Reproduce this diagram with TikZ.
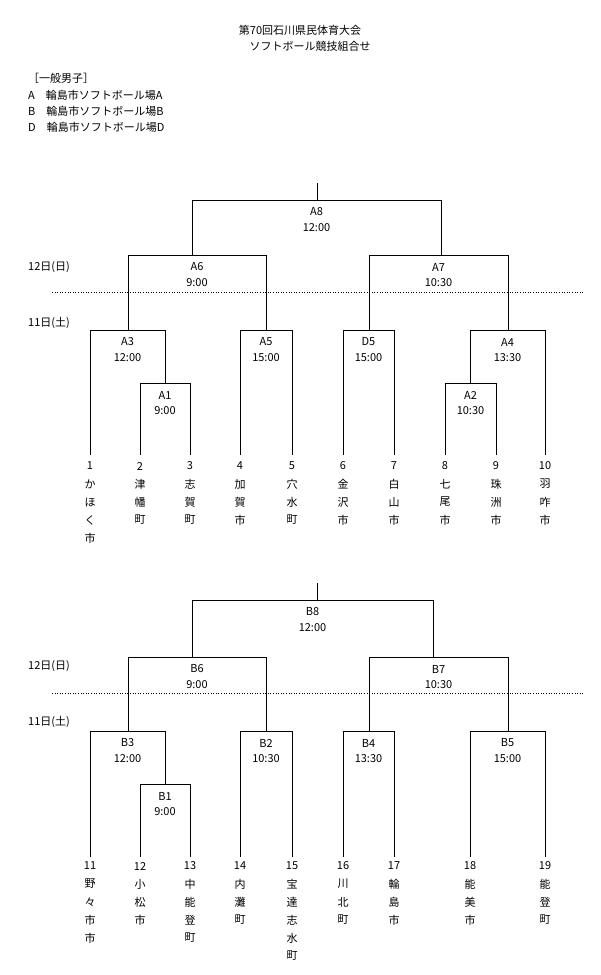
\documentclass[tikz,border=0pt]{standalone}
\usepackage{fontspec}
\setmainfont{Noto Sans CJK JP}
\begin{document}
\begin{tikzpicture}[x=1pt,y=-1pt,
  txt/.style={inner sep=0pt,font=\fontsize{11}{13}\selectfont},
  ln/.style={line width=0.6pt},
  dot/.style={dotted,line width=0.6pt}]
\useasboundingbox (0,0) rectangle (600,975);
% match macro: x1 x2 y yleft yright label time
\newcommand\mymatch[7]{%
  \draw[ln] (#1,#4) -- (#1,#3) -- (#2,#3) -- (#2,#5);
  \node[txt] at ({(#1+#2)/2},#3+12) {#6};
  \node[txt] at ({(#1+#2)/2},#3+28) {#7};}
\newcommand\myteam[4]{% x y num name-chars (list)
  \node[txt] at (#1,#2) {#3};
  \foreach \c [count=\i] in {#4} \node[txt] at (#1,#2+18*\i) {\c};}
\node[txt] (t1) at (300,30) {第70回石川県民体育大会};
\node[txt] (t2) at (310,46) {ソフトボール競技組合せ};
\node[txt,anchor=west] (h) at (28,78) {［一般男子］};
\node[txt,anchor=west] (la) at (28,95) {A\quad 輪島市ソフトボール場A};
\node[txt,anchor=west] (lb) at (28,111) {B\quad 輪島市ソフトボール場B};
\node[txt,anchor=west] (ld) at (28,127) {D\quad 輪島市ソフトボール場D};
% top bracket
\draw[ln] (317,183) -- (317,200);
\mymatch{192}{441}{200}{255}{255}{A8}{12:00}
\mymatch{128}{266}{255}{330}{330}{A6}{9:00}
\mymatch{369}{508}{255}{330}{330}{A7}{10:30}
\draw[dot] (52,292) -- (583,292);
\node[txt,anchor=west] at (28,267) {12日(日)};
\node[txt,anchor=west] at (28,323) {11日(土)};
\mymatch{90}{165}{330}{455}{383}{A3}{12:00}
\mymatch{140}{190}{383}{455}{455}{A1}{9:00}
\mymatch{240}{292}{330}{455}{455}{A5}{15:00}
\mymatch{343}{394}{330}{455}{455}{D5}{15:00}
\mymatch{470}{545}{330}{383}{455}{A4}{13:30}
\mymatch{445}{496}{383}{455}{455}{A2}{10:30}
\myteam{90}{466}{1}{か,ほ,く,市}
\myteam{140}{466}{2}{津,幡,町}
\myteam{190}{466}{3}{志,賀,町}
\myteam{240}{466}{4}{加,賀,市}
\myteam{292}{466}{5}{穴,水,町}
\myteam{343}{466}{6}{金,沢,市}
\myteam{394}{466}{7}{白,山,市}
\myteam{445}{466}{8}{七,尾,市}
\myteam{496}{466}{9}{珠,洲,市}
\myteam{545}{466}{10}{羽,咋,市}
% bottom bracket
\draw[ln] (317,583) -- (317,600);
\mymatch{192}{433}{600}{657}{657}{B8}{12:00}
\mymatch{128}{266}{657}{731}{731}{B6}{9:00}
\mymatch{369}{508}{657}{731}{731}{B7}{10:30}
\draw[dot] (52,693) -- (583,693);
\node[txt,anchor=west] at (28,666) {12日(日)};
\node[txt,anchor=west] at (28,722) {11日(土)};
\mymatch{90}{165}{731}{857}{784}{B3}{12:00}
\mymatch{140}{190}{784}{857}{857}{B1}{9:00}
\mymatch{240}{292}{731}{857}{857}{B2}{10:30}
\mymatch{343}{394}{731}{857}{857}{B4}{13:30}
\mymatch{470}{545}{731}{857}{857}{B5}{15:00}
\myteam{90}{866}{11}{野,々,市,市}
\myteam{140}{866}{12}{小,松,市}
\myteam{190}{866}{13}{中,能,登,町}
\myteam{240}{866}{14}{内,灘,町}
\myteam{292}{866}{15}{宝,達,志,水,町}
\myteam{343}{866}{16}{川,北,町}
\myteam{394}{866}{17}{輪,島,市}
\myteam{470}{866}{18}{能,美,市}
\myteam{545}{866}{19}{能,登,町}
\end{tikzpicture}
\end{document}
